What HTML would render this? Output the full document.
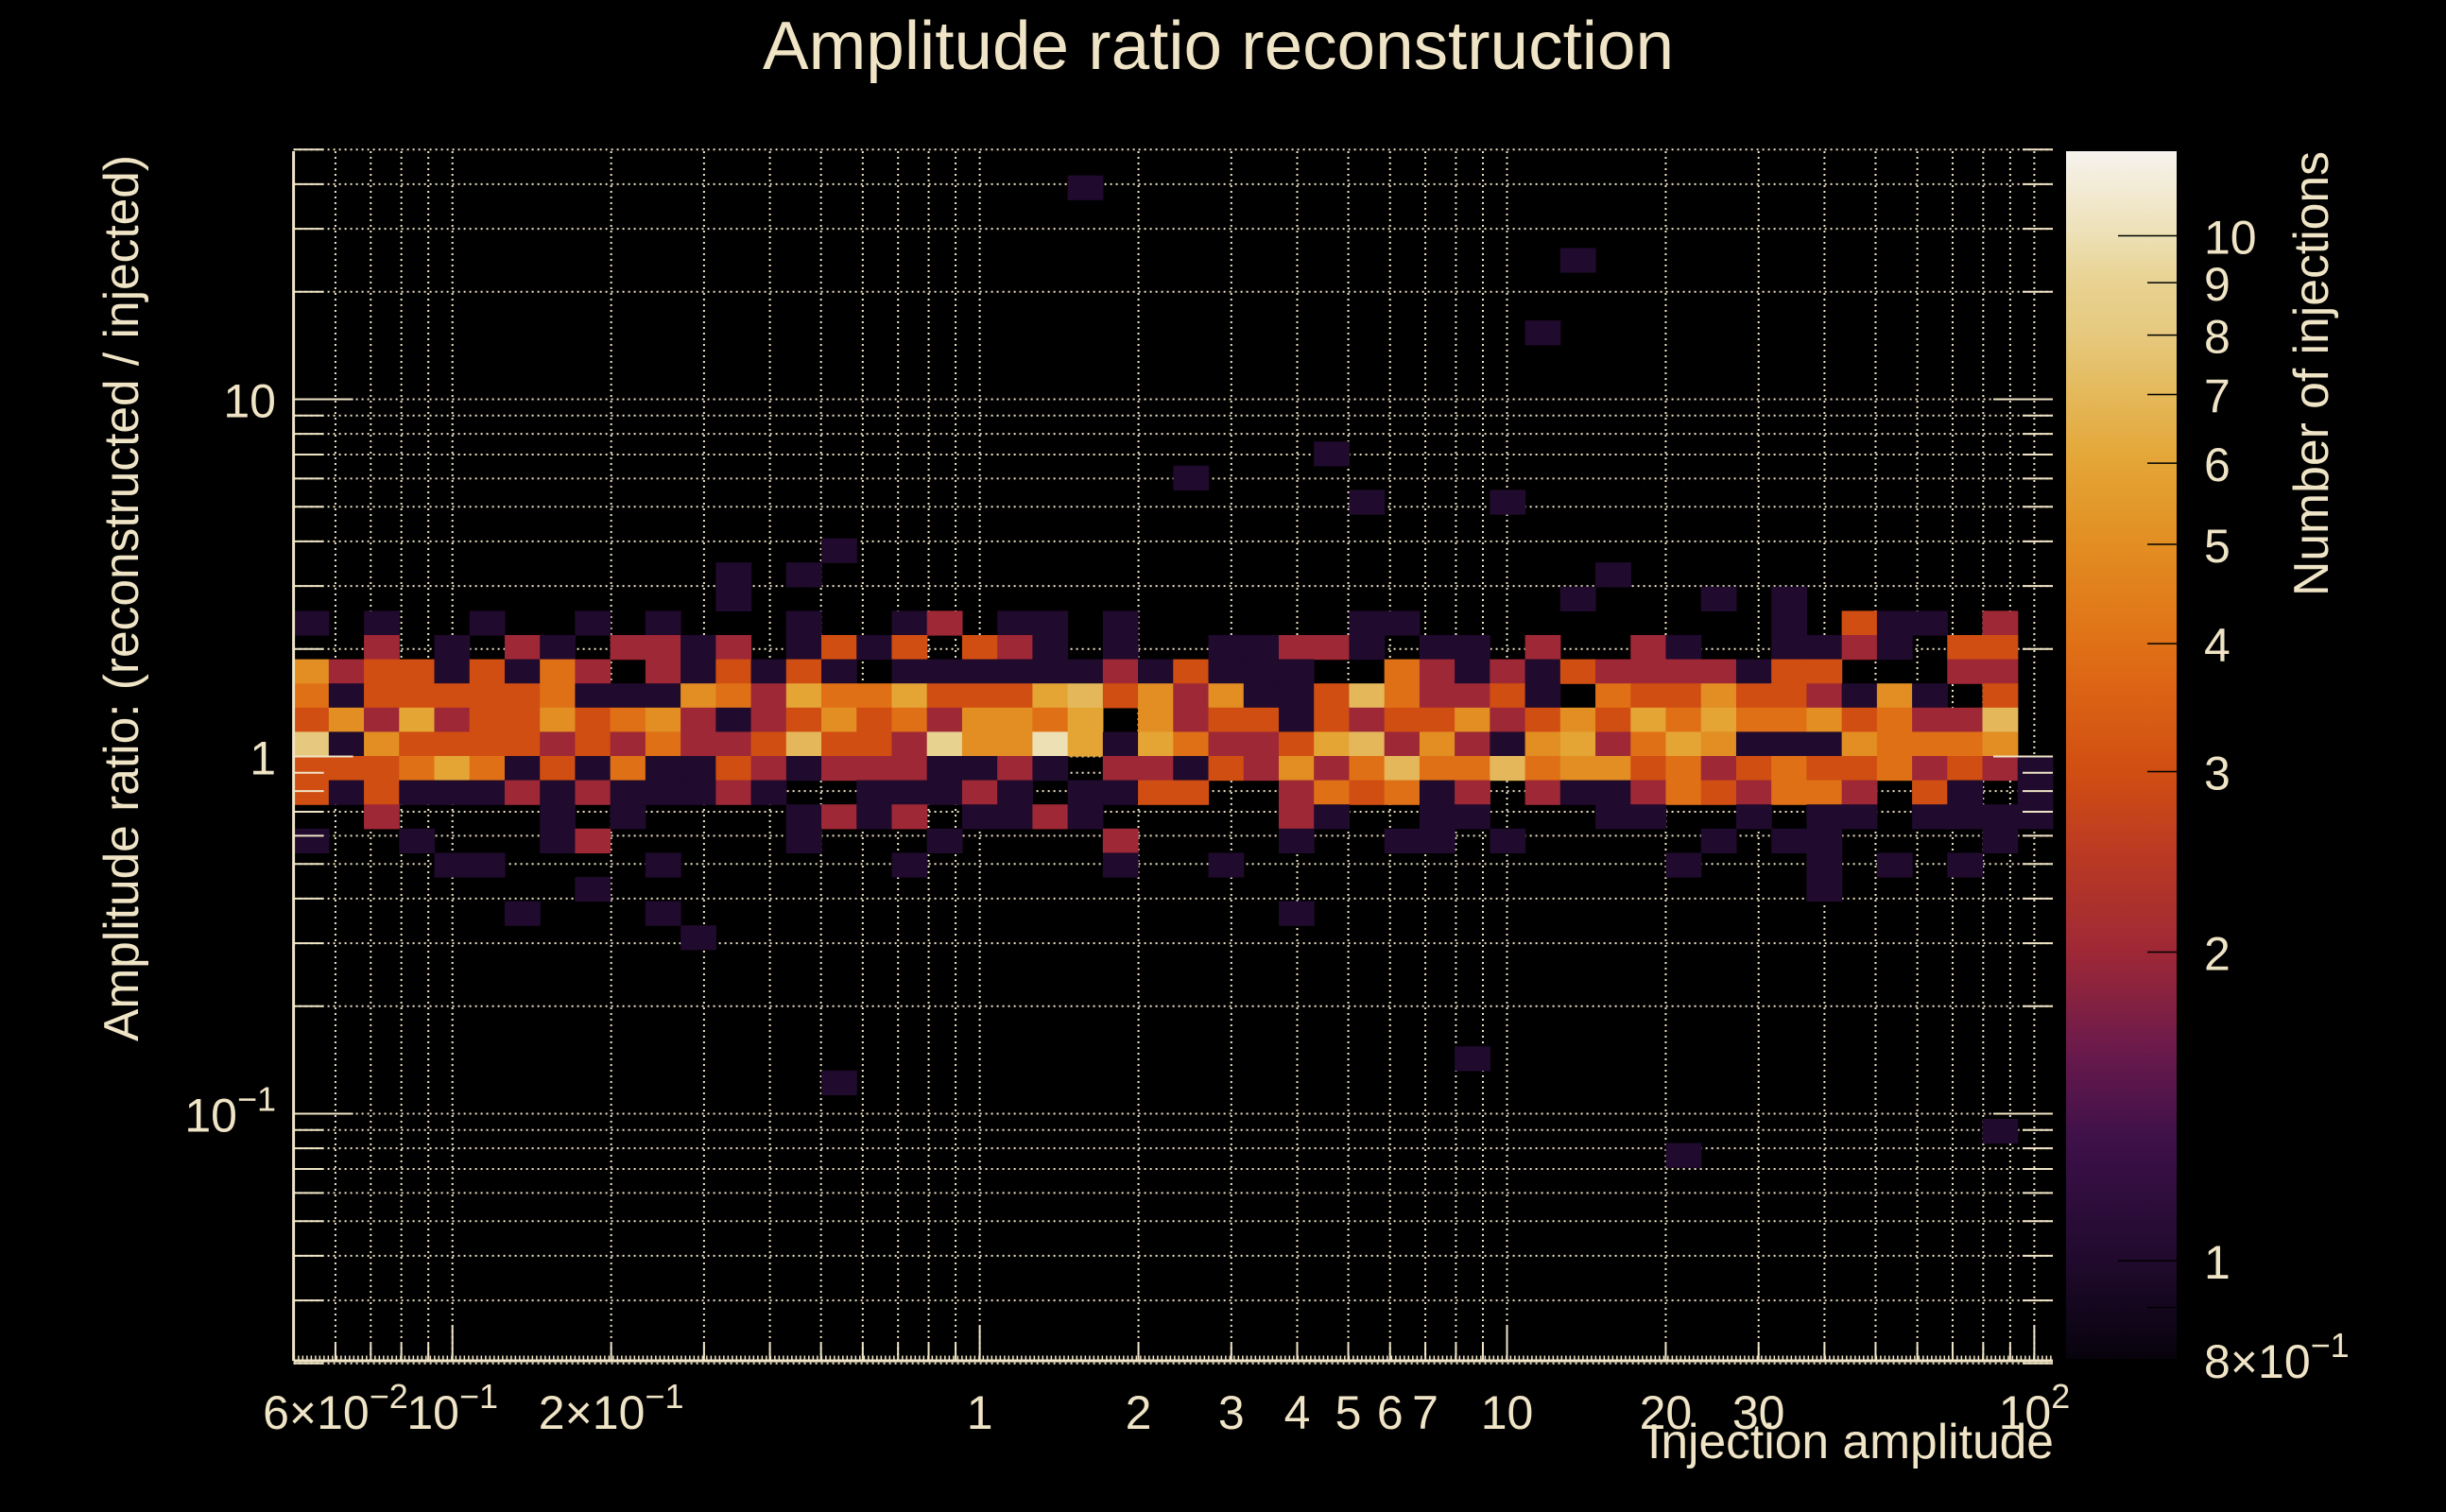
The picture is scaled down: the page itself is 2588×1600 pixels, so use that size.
<!DOCTYPE html>
<html><head><meta charset="utf-8"><title>Amplitude ratio reconstruction</title>
<style>
html,body{margin:0;padding:0;background:#000;}
svg{display:block;}
text{font-family:"Liberation Sans",sans-serif;fill:#f0e4c6;}
</style></head>
<body>
<svg id="chart" xmlns="http://www.w3.org/2000/svg" width="2588" height="1600" viewBox="0 0 2588 1600">
<rect x="0" y="0" width="2588" height="1600" fill="#000"/>
<text x="1289" y="73" font-size="72" text-anchor="middle" textLength="964" lengthAdjust="spacingAndGlyphs">Amplitude ratio reconstruction</text>
<g id="grid"></g>
<g id="cells"></g>
<g id="axes"></g>
<g id="colorbar"></g>
<text x="2173" y="1543" font-size="52" text-anchor="end" textLength="430" lengthAdjust="spacingAndGlyphs">Injection amplitude</text>
<text transform="translate(146,164) rotate(-90)" x="0" y="0" font-size="52" text-anchor="end" textLength="938" lengthAdjust="spacingAndGlyphs">Amplitude ratio: (reconstructed / injected)</text>
<text transform="translate(2463,160) rotate(-90)" x="0" y="0" font-size="52" text-anchor="end" textLength="471" lengthAdjust="spacingAndGlyphs">Number of injections</text>
</svg>
<script>
// ---- data ----
const nBinsX = 50;
const nBinsY = 50;
const rowBins = [31,30,29,28,27,26,25,24,23,22,21,20,19,18,17];
const row31 = [0,0,0,0,0,0,0,0,0,0,0,0,1,0,0,0,0,0,0,0,0,0,0,0,0,0,0,0,0,0,0,0,0,0,0,0,1,0,0,0,1,0,1,0,0,0,0,0,0,0];
const row30 = [1,0,1,0,0,1,0,0,1,0,1,0,0,0,1,0,0,1,2,0,1,1,0,1,0,0,0,0,0,0,1,1,0,0,0,0,0,0,0,0,0,0,1,0,3,1,1,0,2,0];
const row29 = [0,0,2,0,1,0,2,1,0,2,2,1,2,0,1,3,1,3,0,3,2,1,0,1,0,0,1,1,2,2,1,0,1,1,0,2,0,0,2,1,0,0,1,1,2,1,0,3,3,0];
const row28 = [5,2,3,3,1,3,1,4,2,0,2,1,3,1,3,1,0,1,1,1,1,1,1,2,1,3,1,1,1,0,0,4,2,1,2,1,3,2,2,2,2,1,3,3,0,0,0,2,2,0];
const row27 = [4,1,3,3,3,3,3,4,1,1,1,5,4,2,6,4,4,6,3,3,3,6,7,3,5,2,5,1,1,3,7,4,2,2,3,1,0,4,3,3,5,3,3,2,1,5,1,0,3,0];
const row26 = [3,5,2,6,2,3,3,5,3,4,5,2,1,2,3,5,3,4,2,5,5,4,6,0,5,2,3,3,1,3,2,3,3,5,2,3,5,3,6,4,6,4,4,5,3,4,2,2,7,0];
const row25 = [8,1,5,3,3,3,3,2,3,2,4,2,2,3,7,3,3,2,9,5,5,10,6,1,6,4,2,2,3,6,7,2,5,2,1,5,6,2,4,6,5,1,1,1,5,4,4,4,5,0];
const row24 = [3,3,3,4,6,4,1,3,1,4,1,1,3,2,1,2,2,2,1,1,2,1,0,2,2,1,3,2,5,2,4,7,4,4,7,4,5,5,3,4,2,3,4,3,3,4,2,3,2,1];
const row23 = [3,1,3,1,1,1,2,1,2,1,1,1,2,1,0,0,1,1,1,2,1,0,1,1,3,3,0,0,2,4,3,4,1,2,0,2,1,1,2,4,3,2,4,4,2,0,3,1,0,1];
const row22 = [0,0,2,0,0,0,0,1,0,1,0,0,0,0,1,2,1,2,0,1,1,2,1,0,0,0,0,0,2,1,0,0,1,1,0,0,0,1,1,0,0,1,0,1,1,0,1,1,1,1];
const row21 = [1,0,0,1,0,0,0,1,2,0,0,0,0,0,1,0,0,0,1,0,0,0,0,2,0,0,0,0,1,0,0,1,1,0,1,0,0,0,0,0,1,0,1,1,0,0,0,0,1,0];
const row20 = [0,0,0,0,1,1,0,0,0,0,1,0,0,0,0,0,0,1,0,0,0,0,0,1,0,0,1,0,0,0,0,0,0,0,0,0,0,0,0,1,0,0,0,1,0,1,0,1,0,0];
const row19 = [0,0,0,0,0,0,0,0,1,0,0,0,0,0,0,0,0,0,0,0,0,0,0,0,0,0,0,0,0,0,0,0,0,0,0,0,0,0,0,0,0,0,0,1,0,0,0,0,0,0];
const row18 = [0,0,0,0,0,0,1,0,0,0,1,0,0,0,0,0,0,0,0,0,0,0,0,0,0,0,0,0,1,0,0,0,0,0,0,0,0,0,0,0,0,0,0,0,0,0,0,0,0,0];
const row17 = [0,0,0,0,0,0,0,0,0,0,0,1,0,0,0,0,0,0,0,0,0,0,0,0,0,0,0,0,0,0,0,0,0,0,0,0,0,0,0,0,0,0,0,0,0,0,0,0,0,0];
const outlierX = [22,36,35,25,29,30,34,15,12,14,37,15,33,39,48];
const outlierY = [48,45,42,36,37,35,35,33,32,32,32,11,12,8,9];
const outlierCount = [1,1,1,1,1,1,1,1,1,1,1,1,1,1,1];
const xTickLabels = [[0.06,'6×10','−2'],[0.1,'10','−1'],[0.2,'2×10','−1'],[1,'1',''],[2,'2',''],[3,'3',''],[4,'4',''],[5,'5',''],[6,'6',''],[7,'7',''],[10,'10',''],[20,'20',''],[30,'30',''],[100,'10','2']];
const yTickLabels = [[10,'10',''],[1,'1',''],[0.1,'10','−1']];
const zTickLabels = [[10,'10',''],[9,'9',''],[8,'8',''],[7,'7',''],[6,'6',''],[5,'5',''],[4,'4',''],[3,'3',''],[2,'2',''],[1,'1',''],[0.8,'8×10','−1']];
const paletteCounts = [0.8,1,1.3,1.6,2,2.5,3,3.5,4,5,6,7,8,9,10,12.1];
const paletteColors = ['#07030c','#200a2d','#3c1049','#6a1a4c','#9e2836','#bb3a22','#d14e12','#da6014','#e07016','#e28e22','#e4a535','#e4b85a','#e6c97e','#e8d290','#ede0b5','#f6f3ee'];

// ---- layout ----
const PL=310.6, PR=2172, PT=160, PB=1440;
const X0=1036.6, XD=557.9; // pixel of x=1, pixels per decade
const Y0=800.5, YD=378;
const CBL=2186, CBR=2303, ZT=160, ZB=1438, Z1=1334, ZD=1084.5;
const NS='http://www.w3.org/2000/svg';
const TXT='#f0e4c6';
function xS(v){return X0+Math.log10(v)*XD;}
function yS(v){return Y0-Math.log10(v)*YD;}
function zS(v){return Z1-Math.log10(v)*ZD;}
function mk(tag,attrs,parent){const e=document.createElementNS(NS,tag);for(const k in attrs)e.setAttribute(k,attrs[k]);parent.appendChild(e);return e;}
function hex(c){return [parseInt(c.slice(1,3),16),parseInt(c.slice(3,5),16),parseInt(c.slice(5,7),16)];}
function colorFor(n){
  const l=Math.log(Math.max(paletteCounts[0],Math.min(n,paletteCounts[paletteCounts.length-1])));
  for(let i=0;i<paletteCounts.length-1;i++){
    const a=Math.log(paletteCounts[i]),b=Math.log(paletteCounts[i+1]);
    if(l<=b){const t=(l-a)/(b-a);const c1=hex(paletteColors[i]),c2=hex(paletteColors[i+1]);
      return 'rgb('+c1.map((v,k)=>Math.round(v+(c2[k]-v)*t)).join(',')+')';}
  }
  return paletteColors[paletteColors.length-1];
}
const xLo=Math.pow(10,(PL-X0)/XD), xHi=Math.pow(10,(PR-X0)/XD);
const yLo=Math.pow(10,(Y0-PB)/YD), yHi=Math.pow(10,(Y0-PT)/YD);
function xEdge(i){return Math.pow(10,Math.log10(xLo)+i*(Math.log10(xHi)-Math.log10(xLo))/nBinsX);}
function yEdge(j){return Math.pow(10,Math.log10(yLo)+j*(Math.log10(yHi)-Math.log10(yLo))/nBinsY);}

const grid=document.getElementById('grid');
const cells=document.getElementById('cells');
const axes=document.getElementById('axes');
const cbar=document.getElementById('colorbar');

function drawCell(i,j,n){
  if(n<=0)return;
  const x1=xS(xEdge(i)),x2=xS(xEdge(i+1)),y1=yS(yEdge(j+1)),y2=yS(yEdge(j));
  const r=mk('rect',{x:x1.toFixed(2),y:y1.toFixed(2),width:(x2-x1+0.6).toFixed(2),height:(y2-y1+0.6).toFixed(2),fill:colorFor(n)},cells);
  
  
}
const rows=[row31,row30,row29,row28,row27,row26,row25,row24,row23,row22,row21,row20,row19,row18,row17];
rows.forEach((row,k)=>row.forEach((n,i)=>drawCell(i,rowBins[k],n)));
outlierX.forEach((i,k)=>drawCell(i,outlierY[k],outlierCount[k]));

// grid + ticks
const xGridVals=[];
for(const d of [0.01,0.1,1,10]) for(let m=1;m<=9;m++){const v=m*d;if(v>=0.06&&v<=100.1)xGridVals.push(v);}
xGridVals.push(100);
const yGridVals=[];
for(const d of [0.01,0.1,1,10]) for(let m=1;m<=9;m++){const v=m*d;if(v>=0.02&&v<=50.1)yGridVals.push(v);}
xGridVals.forEach(v=>{
  const x=xS(v);
  const g=mk('line',{x1:x,x2:x,y1:PT,y2:PB,stroke:TXT,'stroke-width':2,'stroke-dasharray':'2 4'},grid);
  
  
  const major=Math.abs(Math.log10(v)-Math.round(Math.log10(v)))<1e-6;
  const t=mk('line',{x1:x,x2:x,y1:PB,y2:PB-(major?37:18),stroke:TXT,'stroke-width':2},axes);
  
  
});
yGridVals.forEach(v=>{
  const y=yS(v);
  const g=mk('line',{x1:PL,x2:PR,y1:y,y2:y,stroke:TXT,'stroke-width':2,'stroke-dasharray':'2 4'},grid);
  
  
  const major=Math.abs(Math.log10(v)-Math.round(Math.log10(v)))<1e-6;
  const L=major?63:32;
  const t=mk('line',{x1:PL,x2:PL+L,y1:y,y2:y,stroke:TXT,'stroke-width':2},axes);
  
  
  const t2=mk('line',{x1:PR,x2:PR-L,y1:y,y2:y,stroke:TXT,'stroke-width':2},axes);
  
  
});
// fine ticks along bottom axis
const fine=mk('line',{x1:PL,x2:PR,y1:PB-3,y2:PB-3,stroke:TXT,'stroke-width':5,'stroke-dasharray':'1.5 3'},axes);


const ax=mk('line',{x1:PL,x2:PL,y1:PT,y2:PB,stroke:TXT,'stroke-width':3},axes);


const bx=mk('line',{x1:PL,x2:PR,y1:PB,y2:PB,stroke:TXT,'stroke-width':3},axes);



function label(parent,x,y,base,exp,anchor,name){
  const t=mk('text',{x:x,y:y,'font-size':50,'text-anchor':anchor},parent);
  
  
  const s1=mk('tspan',{},t);s1.textContent=base;
  if(exp){const s2=mk('tspan',{dy:-22,'font-size':36},t);s2.textContent=exp;}
  return t;
}
xTickLabels.forEach(d=>label(axes,xS(d[0]),1512,d[1],d[2],'middle','x-tick-label'));
yTickLabels.forEach(d=>label(axes,292,yS(d[0])+19,d[1],d[2],'end','y-tick-label'));

// colorbar
const defs=mk('defs',{},cbar);
const grad=mk('linearGradient',{id:'zgrad',x1:0,y1:1,x2:0,y2:0},defs);
for(let k=0;k<=60;k++){
  const y=ZB-(ZB-ZT)*k/60;
  const v=Math.pow(10,(Z1-y)/ZD);
  mk('stop',{offset:(k/60).toFixed(4),'stop-color':colorFor(v)},grad);
}
const cb=mk('rect',{x:CBL,y:ZT,width:CBR-CBL,height:ZB-ZT,fill:'url(#zgrad)'},cbar);


zTickLabels.forEach(d=>{
  const y=zS(d[0]);
  const major=(d[0]===10||d[0]===1);
  const t=mk('line',{x1:CBR,x2:CBR-(major?62:31),y1:y,y2:y,stroke:'#000','stroke-width':1.5},cbar);
  
  
  label(cbar,2332,Math.min(y+19,1480),d[1],d[2],'start','colorbar-tick-label');
});
const t09=mk('line',{x1:CBR,x2:CBR-31,y1:zS(0.9),y2:zS(0.9),stroke:'#000','stroke-width':1.5},cbar);


</script>
</body></html>
